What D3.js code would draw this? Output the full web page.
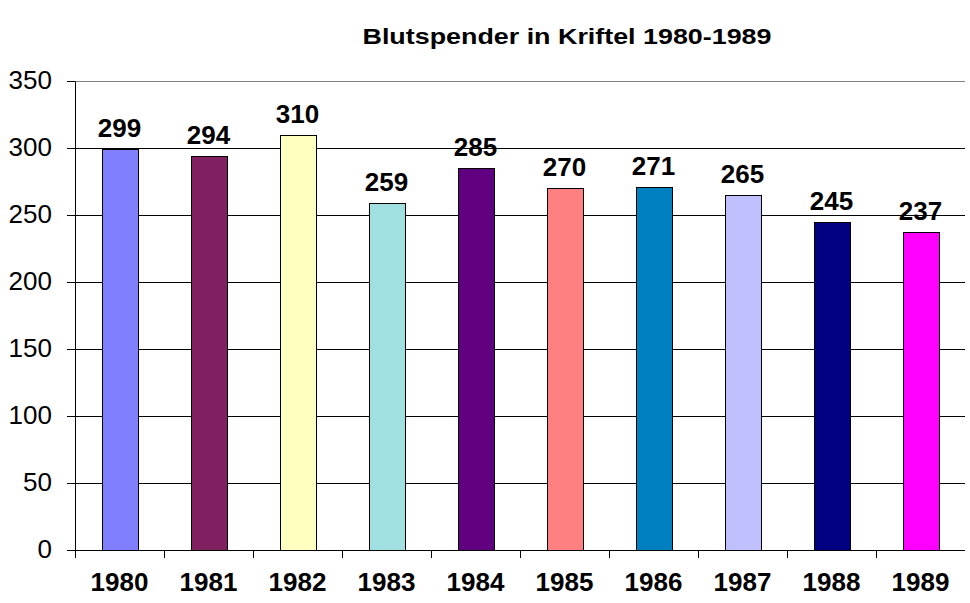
<!DOCTYPE html>
<html>
<head>
<meta charset="utf-8">
<script src="https://cdn.jsdelivr.net/npm/d3@7"></script>
<style>
body { margin: 0; background: #fff; }
text { font-family: "Liberation Sans", Arial, sans-serif; }
</style>
</head>
<body>
<script>
const years = ["1980", "1981", "1982", "1983", "1984", "1985", "1986", "1987", "1988", "1989"];
const donors = [299, 294, 310, 259, 285, 270, 271, 265, 245, 237];
const colors = ["#8080FF", "#802060", "#FFFFC0", "#A0E0E0", "#600080", "#FF8080", "#0080C0", "#C0C0FF", "#000080", "#FF00FF"];
const yTicks = [0, 50, 100, 150, 200, 250, 300, 350];

const margin = {top: 81, right: 5, bottom: 53, left: 75},
width = 970 - margin.left - margin.right,
height = 603 - margin.top - margin.bottom;

const svg = d3.select("body")
.append("svg")
.attr("width", 970)
.attr("height", 603);

// Title (stretched a bit like the original)
svg.append("text")
  .attr("x", 567)
  .attr("y", 44)
  .attr("text-anchor", "middle")
  .attr("textLength", 409)
  .attr("lengthAdjust", "spacingAndGlyphs")
  .style("font-weight", "bold")
  .style("font-size", "22px")
  .text("Blutspender in Kriftel 1980-1989");

const g = svg.append("g")
.attr("transform", `translate(${margin.left},${margin.top})`);

const x = d3.scaleBand()
.domain(years)
.range([0, width]);

const y = d3.scaleLinear()
.domain([0, 350])
.range([height, 0]);

// grid lines
g.selectAll("line.grid")
.data(yTicks.slice(1))
.enter()
.append("line")
.attr("class", "grid")
.attr("x1", 0)
.attr("x2", width)
.attr("y1", d => Math.round(y(d)) + 0.5)
.attr("y2", d => Math.round(y(d)) + 0.5)
.attr("stroke", d => d === 350 ? "#808080" : "#000")
.attr("stroke-width", 1);

// y axis
const yAxis = g.append("g")
.call(d3.axisLeft(y).tickValues(yTicks).tickSize(8).tickPadding(15).tickSizeOuter(0));
yAxis.select(".domain").attr("stroke", "#000");
yAxis.selectAll("text")
  .style("font-size", "26px")
  .attr("dy", "0.28em")
  .attr("fill", "#000");

// x axis with ticks between categories
const xAxis = g.append("g")
.attr("transform", `translate(0,${height})`);
xAxis.append("line")
  .attr("x1", 0).attr("x2", width)
  .attr("y1", 0.5).attr("y2", 0.5)
  .attr("stroke", "#000");
xAxis.selectAll("line.tick")
  .data(years)
  .enter()
  .append("line")
  .attr("class", "tick")
  .attr("x1", d => Math.round(x(d)) + 0.5)
  .attr("x2", d => Math.round(x(d)) + 0.5)
  .attr("y1", 0)
  .attr("y2", 8)
  .attr("stroke", "#000");
xAxis.selectAll("text")
  .data(years)
  .enter()
  .append("text")
  .attr("x", d => x(d) + x.bandwidth() / 2)
  .attr("y", 41)
  .attr("text-anchor", "middle")
  .style("font-weight", "bold")
  .style("font-size", "26px")
  .text(d => d);

// bars
const barW = x.bandwidth() * 0.4;
g.selectAll("rect.bar")
.data(donors)
.enter()
.append("rect")
.attr("class", "bar")
.attr("x", (d, i) => Math.round(x(years[i]) + (x.bandwidth() - barW) / 2) + 0.5)
.attr("y", d => Math.round(y(d)) + 0.5)
.attr("width", Math.round(barW))
.attr("height", d => Math.round(height - y(d)))
.attr("fill", (d, i) => colors[i])
.attr("stroke", "#000")
.attr("stroke-width", 1);

// value labels
g.selectAll("text.val")
.data(donors)
.enter()
.append("text")
.attr("class", "val")
.attr("x", (d, i) => x(years[i]) + x.bandwidth() / 2)
.attr("y", d => y(d) - 12)
.attr("text-anchor", "middle")
.style("font-weight", "bold")
.style("font-size", "26px")
.text(d => d);
</script>
</body>
</html>
